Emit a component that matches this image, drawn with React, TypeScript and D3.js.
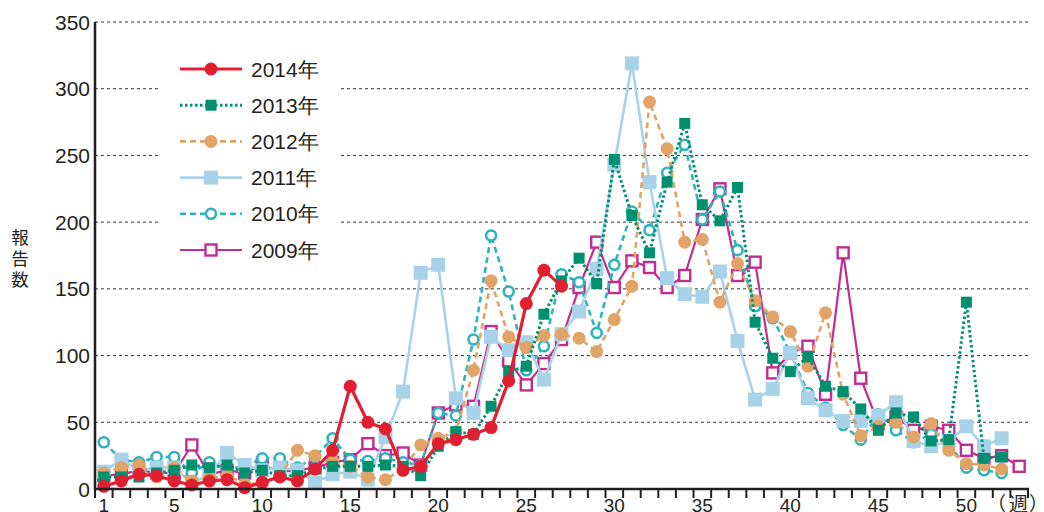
import React from 'react';
import * as d3 from "d3";

// weekly report counts
const y2014 = [2,6,11,10,6,3,6,7,1,5,9,6,15,29,77,50,45,14,17,34,37,41,46,81,139,164,152];
const y2013 = [9,9,9,12,14,18,16,18,12,14,10,10,15,17,17,17,18,17,10,32,43,41,62,88,92,131,156,173,154,247,205,177,230,274,213,201,226,125,98,88,99,77,73,60,44,57,54,36,37,140,23,24];
const y2012 = [12,16,18,9,16,6,8,10,4,4,10,29,25,21,17,9,7,15,33,38,43,89,156,114,106,115,116,113,103,127,152,290,255,185,187,140,169,141,129,118,92,132,71,40,47,50,39,49,29,19,18,15];
const y2011 = [13,22,14,16,16,4,11,27,18,14,16,14,5,11,13,7,39,73,162,168,68,57,114,104,110,82,116,133,165,243,319,230,158,146,144,163,111,67,75,102,68,59,51,51,55,65,36,32,36,47,32,38];
const y2010 = [35,22,20,24,24,12,20,15,17,23,23,16,24,38,22,21,23,20,18,57,55,112,190,148,89,107,161,155,117,168,208,194,237,258,202,223,179,137,128,102,72,61,48,37,56,44,35,41,34,16,14,12];
const y2009 = [10,11,14,12,12,33,11,14,12,18,13,14,16,20,22,34,25,27,18,57,63,62,118,96,78,94,112,151,185,151,171,166,151,160,202,225,160,170,87,102,107,71,177,83,49,54,44,47,44,29,23,25,17];

const xTickLabels = [1, 5, 10, 15, 20, 25, 30, 35, 40, 45, 50];
const yTicks = [0, 50, 100, 150, 200, 250, 300, 350];

type Series = {
    name: string,
    values: number[],
    color: string,
    width: number,
    dash: string,
    marker: "circle" | "square" | "ocircle" | "osquare",
    size: number,
};

// drawn bottom -> top
const series: Series[] = [
    {name: "2009年", values: y2009, color: "#c22c8f", width: 2.2, dash: "", marker: "osquare", size: 11},
    {name: "2010年", values: y2010, color: "#2fb3bd", width: 2.6, dash: "6,4", marker: "ocircle", size: 5},
    {name: "2011年", values: y2011, color: "#a8d2e8", width: 2.6, dash: "", marker: "square", size: 14},
    {name: "2012年", values: y2012, color: "#e2a466", width: 2.6, dash: "6,4", marker: "circle", size: 6.5},
    {name: "2013年", values: y2013, color: "#00906f", width: 3, dash: "2.5,2.5", marker: "square", size: 11},
    {name: "2014年", values: y2014, color: "#e01f30", width: 3.2, dash: "", marker: "circle", size: 6.5},
];

const FONT = "'Liberation Sans', Arial, sans-serif";
const CJK = "'Noto Sans CJK JP', sans-serif";

const Marker = (props: {s: Series, cx: number, cy: number}) => {
    const {s, cx, cy} = props;
    const h = s.size / 2;
    if (s.marker === "circle") {
        return <circle cx={cx} cy={cy} r={s.size} fill={s.color}/>;
    }
    if (s.marker === "ocircle") {
        return <circle cx={cx} cy={cy} r={s.size} fill="white" stroke={s.color} strokeWidth={2.6}/>;
    }
    if (s.marker === "square") {
        return <rect x={cx - h} y={cy - h} width={s.size} height={s.size} fill={s.color}/>;
    }
    return <rect x={cx - h} y={cy - h} width={s.size} height={s.size} fill="white" stroke={s.color} strokeWidth={2.4}/>;
};

const App = () => {
    const width = 1044;
    const height = 512;

    const x = d3.scaleLinear().domain([0.5, 53.5]).range([95, 1028]);
    const y = d3.scaleLinear().domain([0, 350]).range([489, 22]);

    const line = d3.line<number>()
        .x((d, i) => x(i + 1))
        .y(d => y(d));

    const weekTicks = d3.range(0.5, 54, 1);

    const legendRows = [...series].reverse();

    return (
        <svg width={width} height={height}
             style={{position: "absolute", left: 0, top: 0, background: "white"}}
             fontFamily={FONT}>
            {/* gridlines */}
            {yTicks.filter(t => t > 0).map(t =>
                <line key={"g" + t} x1={x(0.5)} x2={x(53.5)} y1={y(t)} y2={y(t)}
                      stroke="#333" strokeWidth={1} strokeDasharray="3,3"/>
            )}

            {/* legend box covers the grid */}
            <rect x={158} y={46} width={180} height={222} fill="white"/>
            {legendRows.map((s, i) => {
                const ly = 69 + i * 36.2;
                return (
                    <g key={"l" + s.name}>
                        <line x1={180} x2={242} y1={ly} y2={ly} stroke={s.color}
                              strokeWidth={s.width} strokeDasharray={s.dash}/>
                        <Marker s={s} cx={211} cy={ly}/>
                        <text x={251} y={ly + 7.5} fontSize={21} fill="#231f20">{s.name}</text>
                    </g>
                );
            })}

            {/* series */}
            {series.map(s =>
                <g key={s.name}>
                    <path d={line(s.values) || ""} fill="none" stroke={s.color}
                          strokeWidth={s.width} strokeDasharray={s.dash} strokeLinejoin="round"/>
                    {s.values.map((v, i) =>
                        <Marker key={i} s={s} cx={x(i + 1)} cy={y(v)}/>
                    )}
                </g>
            )}

            {/* axes */}
            <line x1={x(0.5)} x2={x(0.5)} y1={y(350)} y2={y(0) + 1} stroke="#231f20" strokeWidth={2.5}/>
            <line x1={x(0.5) - 1} x2={x(53.5) + 1} y1={y(0)} y2={y(0)} stroke="#231f20" strokeWidth={2.5}/>
            {weekTicks.map(t =>
                <line key={"t" + t} x1={x(t)} x2={x(t)} y1={y(0)} y2={y(0) + 9}
                      stroke="#231f20" strokeWidth={2}/>
            )}
            {yTicks.map(t =>
                <text key={"y" + t} x={90} y={y(t) + 7.5} fontSize={21} textAnchor="end"
                      fill="#231f20">{t}</text>
            )}
            {xTickLabels.map(t =>
                <text key={"x" + t} x={x(t)} y={512} fontSize={19} textAnchor="middle"
                      fill="#231f20">{t}</text>
            )}
            <text y={511} fontSize={19} fill="#231f20" fontFamily={CJK}>
                <tspan x={987}>（</tspan>
                <tspan x={1009}>週</tspan>
                <tspan x={1029}>）</tspan>
            </text>

            {/* y axis title */}
            <text x={20} fontSize={17.5} textAnchor="middle" fill="#231f20" fontFamily={CJK}>
                <tspan x={20} y={244}>報</tspan>
                <tspan x={20} y={265}>告</tspan>
                <tspan x={20} y={286}>数</tspan>
            </text>
        </svg>
    );
};

export default App;
